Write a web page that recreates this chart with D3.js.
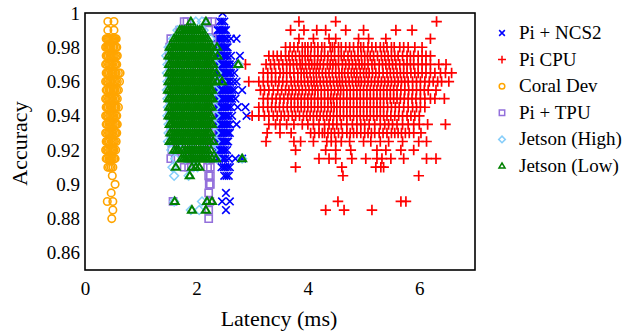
<!DOCTYPE html>
<html>
<head>
<meta charset="utf-8">
<script src="https://cdn.jsdelivr.net/npm/d3@7"></script>
<style>
  html, body { margin: 0; padding: 0; background: #fff; }
  svg text { font-family: "Liberation Serif", "DejaVu Serif", serif; }
</style>
</head>
<body>
<figure id="scatter" style="margin:0"></figure>
<script>
// axis ticks
const xTicks = [0, 2, 4, 6];
const yTicks = [0.86, 0.88, 0.9, 0.92, 0.94, 0.96, 0.98, 1];
const seriesNames = ['Pi + NCS2', 'Pi CPU', 'Coral Dev', 'Pi + TPU', 'Jetson (High)', 'Jetson (Low)'];

// each row: [accuracy, [latencies in ms]]
const piNcs2 = [
  [1.0, [2.47]],
  [0.995, [2.42, 2.46, 2.5]],
  [0.99, [2.38, 2.41, 2.44, 2.47, 2.5, 2.53]],
  [0.985, [2.36, 2.39, 2.42, 2.45, 2.48, 2.52, 2.55, 2.62, 2.72]],
  [0.98, [2.36, 2.39, 2.41, 2.44, 2.46, 2.49, 2.51, 2.54, 2.56]],
  [0.975, [2.35, 2.38, 2.4, 2.43, 2.45, 2.48, 2.5, 2.53, 2.56, 2.62, 2.78]],
  [0.97, [2.35, 2.37, 2.39, 2.42, 2.44, 2.47, 2.49, 2.52, 2.55, 2.58, 2.6, 2.66]],
  [0.965, [2.35, 2.38, 2.4, 2.43, 2.45, 2.48, 2.5, 2.53, 2.56, 2.59, 2.62, 2.68]],
  [0.96, [2.35, 2.37, 2.4, 2.42, 2.45, 2.47, 2.5, 2.52, 2.55, 2.58, 2.6, 2.66, 2.72]],
  [0.955, [2.36, 2.38, 2.41, 2.44, 2.47, 2.5, 2.53, 2.56, 2.6, 2.64, 2.68, 2.82]],
  [0.95, [2.35, 2.38, 2.4, 2.43, 2.46, 2.49, 2.52, 2.55, 2.58, 2.61, 2.64, 2.7]],
  [0.945, [2.36, 2.39, 2.42, 2.45, 2.48, 2.51, 2.55, 2.58, 2.62, 2.74, 2.88]],
  [0.94, [2.35, 2.38, 2.4, 2.43, 2.46, 2.49, 2.52, 2.55, 2.58, 2.64, 2.9]],
  [0.935, [2.35, 2.38, 2.41, 2.44, 2.47, 2.5, 2.53, 2.56, 2.6, 2.72]],
  [0.93, [2.36, 2.39, 2.42, 2.45, 2.48, 2.51, 2.54, 2.57, 2.6]],
  [0.925, [2.35, 2.38, 2.4, 2.43, 2.46, 2.49, 2.52, 2.55, 2.57]],
  [0.92, [2.36, 2.39, 2.42, 2.45, 2.48, 2.51, 2.55]],
  [0.915, [2.38, 2.41, 2.45, 2.48, 2.52, 2.58, 2.7, 2.82]],
  [0.91, [2.45, 2.49, 2.52, 2.56, 2.6]],
  [0.905, [2.5, 2.54, 2.58]],
  [0.895, [2.53]],
  [0.89, [2.46, 2.6]],
  [0.885, [2.53]]
];

const piCpu = [
  [0.995, [3.84, 4.5, 6.31]],
  [0.99, [3.69, 3.93, 4.16, 4.32, 4.68, 5.0, 5.58, 5.87]],
  [0.985, [3.84, 4.1, 4.38, 4.5, 4.91, 5.09, 5.4, 6.2]],
  [0.98, [3.6, 3.68, 3.75, 3.82, 3.9, 3.95, 4.0, 4.06, 4.12, 4.18, 4.25, 4.3, 4.4, 4.44, 4.48, 4.55, 4.6, 4.68, 4.75, 4.82, 4.9, 4.95, 5.0, 5.08, 5.15, 5.22, 5.3, 5.36, 5.42, 5.5, 5.55, 5.65, 5.72, 5.8, 5.92, 6.05]],
  [0.975, [3.3, 3.38, 3.45, 3.52, 3.6, 3.66, 3.72, 3.78, 3.85, 3.9, 3.95, 4.0, 4.05, 4.12, 4.18, 4.24, 4.3, 4.36, 4.42, 4.48, 4.55, 4.6, 4.65, 4.72, 4.78, 4.84, 4.9, 4.96, 5.02, 5.07, 5.12, 5.18, 5.25, 5.32, 5.38, 5.44, 5.5, 5.56, 5.62, 5.7, 5.78, 5.84, 5.9, 5.98, 6.05, 6.12, 6.2]],
  [0.97, [2.88, 3.25, 3.33, 3.4, 3.48, 3.55, 3.62, 3.68, 3.74, 3.8, 3.86, 3.9, 3.96, 4.02, 4.07, 4.12, 4.17, 4.22, 4.28, 4.35, 4.4, 4.45, 4.5, 4.55, 4.62, 4.68, 4.74, 4.8, 4.86, 4.92, 4.97, 5.02, 5.08, 5.15, 5.2, 5.28, 5.34, 5.4, 5.46, 5.52, 5.58, 5.65, 5.72, 5.78, 5.84, 5.9, 5.98, 6.05, 6.12, 6.2, 6.35, 6.48]],
  [0.965, [3.2, 3.28, 3.35, 3.42, 3.5, 3.56, 3.62, 3.68, 3.75, 3.82, 3.88, 3.93, 3.98, 4.04, 4.1, 4.15, 4.2, 4.26, 4.32, 4.38, 4.44, 4.5, 4.56, 4.61, 4.66, 4.72, 4.78, 4.83, 4.88, 4.94, 5.0, 5.05, 5.1, 5.16, 5.22, 5.28, 5.35, 5.42, 5.48, 5.54, 5.6, 5.66, 5.72, 5.78, 5.85, 5.92, 5.98, 6.05, 6.12, 6.2, 6.28, 6.38, 6.47, 6.58]],
  [0.96, [2.94, 3.12, 3.2, 3.28, 3.35, 3.42, 3.48, 3.55, 3.62, 3.7, 3.76, 3.82, 3.88, 3.94, 4.0, 4.06, 4.11, 4.16, 4.22, 4.28, 4.34, 4.4, 4.46, 4.52, 4.57, 4.62, 4.68, 4.74, 4.8, 4.86, 4.91, 4.96, 5.02, 5.08, 5.14, 5.2, 5.26, 5.32, 5.38, 5.44, 5.5, 5.56, 5.62, 5.68, 5.74, 5.8, 5.88, 5.95, 6.02, 6.1, 6.18, 6.25, 6.33, 6.4, 6.53]],
  [0.955, [3.15, 3.22, 3.3, 3.38, 3.46, 3.53, 3.6, 3.66, 3.72, 3.78, 3.84, 3.9, 3.96, 4.02, 4.08, 4.13, 4.18, 4.24, 4.3, 4.36, 4.42, 4.48, 4.54, 4.59, 4.64, 4.7, 4.76, 4.82, 4.88, 4.94, 5.0, 5.06, 5.12, 5.18, 5.24, 5.3, 5.36, 5.42, 5.48, 5.54, 5.6, 5.67, 5.74, 5.81, 5.88, 5.95, 6.02, 6.09, 6.16, 6.3]],
  [0.95, [3.2, 3.28, 3.36, 3.43, 3.5, 3.57, 3.64, 3.7, 3.76, 3.82, 3.88, 3.94, 4.0, 4.06, 4.12, 4.18, 4.24, 4.3, 4.36, 4.41, 4.46, 4.52, 4.58, 4.64, 4.7, 4.76, 4.82, 4.88, 4.94, 5.0, 5.06, 5.12, 5.18, 5.24, 5.3, 5.36, 5.42, 5.48, 5.54, 5.6, 5.66, 5.73, 5.8, 5.87, 5.94, 6.02, 6.1, 6.2, 6.28, 6.45]],
  [0.945, [3.12, 3.2, 3.28, 3.35, 3.42, 3.49, 3.56, 3.63, 3.7, 3.76, 3.82, 3.88, 3.94, 4.0, 4.06, 4.12, 4.18, 4.24, 4.3, 4.36, 4.42, 4.47, 4.52, 4.58, 4.64, 4.7, 4.76, 4.82, 4.88, 4.94, 5.0, 5.06, 5.12, 5.18, 5.24, 5.3, 5.36, 5.43, 5.5, 5.57, 5.64, 5.72, 5.8, 5.88, 5.95, 6.02, 6.1]],
  [0.94, [3.0, 3.12, 3.22, 3.3, 3.38, 3.45, 3.52, 3.58, 3.65, 3.72, 3.78, 3.85, 3.92, 3.98, 4.04, 4.1, 4.16, 4.22, 4.28, 4.34, 4.4, 4.46, 4.52, 4.58, 4.64, 4.7, 4.76, 4.82, 4.88, 4.94, 5.0, 5.06, 5.12, 5.18, 5.24, 5.3, 5.36, 5.42, 5.49, 5.56, 5.63, 5.7, 5.78, 5.85, 5.92, 6.0]],
  [0.935, [3.3, 3.42, 3.5, 3.62, 3.75, 3.9, 4.0, 4.1, 4.2, 4.3, 4.38, 4.45, 4.52, 4.6, 4.7, 4.8, 4.88, 4.95, 5.02, 5.1, 5.2, 5.3, 5.38, 5.45, 5.52, 5.6, 5.7, 5.8, 5.9, 6.0, 6.15, 6.47]],
  [0.93, [3.27, 3.5, 3.7, 4.05, 4.12, 4.2, 4.26, 4.3, 4.36, 4.42, 4.48, 4.55, 4.62, 4.7, 4.76, 4.82, 4.88, 4.95, 5.02, 5.08, 5.14, 5.2, 5.28, 5.35, 5.42, 5.5, 5.56, 5.62, 5.68, 5.75, 5.82, 5.9, 6.03]],
  [0.925, [3.25, 3.75, 3.87, 4.1, 4.34, 4.42, 4.5, 4.6, 4.75, 5.0, 5.13, 5.3, 5.45, 5.7, 5.99, 6.13]],
  [0.92, [3.78, 4.32, 4.5, 4.77, 5.24, 5.4, 5.67, 5.9]],
  [0.915, [4.2, 4.38, 4.5, 4.79, 5.04, 5.24, 5.33, 5.49, 5.72, 6.13, 6.3]],
  [0.91, [3.78, 4.61, 5.22, 5.31, 5.36]],
  [0.905, [4.63, 5.99]],
  [0.89, [4.54, 5.67, 5.76]],
  [0.885, [4.32, 4.65, 5.15]]
];

const coralDev = [
  [0.995, [0.41, 0.52]],
  [0.99, [0.41, 0.52]],
  [0.985, [0.38, 0.4, 0.42, 0.44, 0.46, 0.48, 0.5, 0.52, 0.54, 0.56]],
  [0.98, [0.37, 0.39, 0.41, 0.43, 0.45, 0.47, 0.5, 0.52, 0.55, 0.57]],
  [0.975, [0.38, 0.4, 0.42, 0.45, 0.47, 0.49, 0.51, 0.53, 0.56, 0.58]],
  [0.97, [0.37, 0.39, 0.42, 0.44, 0.46, 0.48, 0.5, 0.53, 0.55, 0.57]],
  [0.965, [0.38, 0.4, 0.42, 0.44, 0.47, 0.49, 0.51, 0.54, 0.56, 0.6, 0.63]],
  [0.96, [0.37, 0.39, 0.41, 0.44, 0.46, 0.48, 0.51, 0.53, 0.55, 0.58, 0.62]],
  [0.955, [0.38, 0.4, 0.43, 0.45, 0.47, 0.5, 0.52, 0.54, 0.57, 0.6]],
  [0.95, [0.37, 0.39, 0.42, 0.44, 0.46, 0.48, 0.5, 0.53, 0.55, 0.58]],
  [0.945, [0.38, 0.4, 0.42, 0.45, 0.47, 0.49, 0.52, 0.54, 0.56, 0.6]],
  [0.94, [0.37, 0.39, 0.41, 0.44, 0.46, 0.48, 0.5, 0.52, 0.55, 0.57]],
  [0.935, [0.38, 0.4, 0.43, 0.45, 0.47, 0.49, 0.51, 0.54, 0.56, 0.58]],
  [0.93, [0.37, 0.39, 0.42, 0.44, 0.46, 0.48, 0.5, 0.53, 0.55, 0.57]],
  [0.925, [0.38, 0.4, 0.42, 0.44, 0.47, 0.49, 0.51, 0.53, 0.56]],
  [0.92, [0.37, 0.39, 0.41, 0.44, 0.46, 0.48, 0.5, 0.52, 0.55]],
  [0.915, [0.38, 0.4, 0.43, 0.45, 0.47, 0.49, 0.52, 0.54]],
  [0.91, [0.41, 0.44, 0.47, 0.5]],
  [0.905, [0.49]],
  [0.9, [0.54]],
  [0.895, [0.47]],
  [0.89, [0.4, 0.5]],
  [0.885, [0.5]],
  [0.88, [0.48]]
];

const piTpu = [
  [0.995, [1.78, 1.83, 2.2, 2.28]],
  [0.99, [1.7, 2.22]],
  [0.985, [1.54, 1.9, 2.28]],
  [0.98, [1.52, 1.7, 1.9, 2.1, 2.27]],
  [0.975, [1.51, 1.72, 1.92, 2.12, 2.26]],
  [0.97, [1.52, 1.7, 1.9, 2.1, 2.27]],
  [0.965, [1.53, 1.72, 1.92, 2.12, 2.25]],
  [0.96, [1.52, 1.7, 1.9, 2.1, 2.26]],
  [0.955, [1.51, 1.72, 1.92, 2.12, 2.25]],
  [0.95, [1.52, 1.7, 1.9, 2.1, 2.26]],
  [0.945, [1.53, 1.72, 1.92, 2.12, 2.25]],
  [0.94, [1.52, 1.7, 1.9, 2.1, 2.26]],
  [0.935, [1.54, 1.72, 1.92, 2.12, 2.25]],
  [0.93, [1.54, 1.7, 1.9, 2.1, 2.26]],
  [0.925, [1.55, 1.72, 1.92, 2.12, 2.25]],
  [0.92, [1.56, 1.7, 1.9, 2.1, 2.24]],
  [0.915, [1.54, 1.62, 1.9, 2.24]],
  [0.91, [1.78, 1.86, 2.2, 2.25]],
  [0.905, [2.22, 2.25]],
  [0.9, [2.23, 2.25]],
  [0.895, [2.22]],
  [0.89, [1.58, 2.24]],
  [0.885, [2.22]],
  [0.88, [2.22]]
];

const jetsonHigh = [
  [0.995, [1.99, 2.1]],
  [0.99, [1.66, 1.9, 2.13]],
  [0.985, [1.58, 1.8, 2.0, 2.25]],
  [0.98, [1.5, 1.7, 1.9, 2.1, 2.32]],
  [0.975, [1.46, 1.7, 1.9, 2.1, 2.36]],
  [0.97, [1.48, 1.7, 1.9, 2.1, 2.34, 2.76]],
  [0.965, [1.47, 1.7, 1.9, 2.1, 2.37]],
  [0.96, [1.48, 1.7, 1.9, 2.1, 2.35, 2.45]],
  [0.955, [1.47, 1.7, 1.9, 2.1, 2.33]],
  [0.95, [1.48, 1.7, 1.9, 2.1, 2.34]],
  [0.945, [1.49, 1.7, 1.9, 2.1, 2.33]],
  [0.94, [1.48, 1.7, 1.9, 2.1, 2.34]],
  [0.935, [1.5, 1.7, 1.9, 2.1, 2.32]],
  [0.93, [1.5, 1.7, 1.9, 2.1, 2.33]],
  [0.925, [1.49, 1.7, 1.9, 2.1, 2.34]],
  [0.92, [1.55, 1.75, 1.95, 2.15, 2.3]],
  [0.915, [1.62, 1.8, 2.0, 2.2, 2.36, 2.82]],
  [0.91, [1.57, 1.95, 2.02]],
  [0.905, [1.6, 1.86]],
  [0.89, [1.6, 2.1]],
  [0.885, [1.9, 2.05]]
];

const jetsonLow = [
  [0.995, [1.9, 2.17]],
  [0.99, [1.7, 1.74, 1.78, 1.82, 1.86, 1.9, 1.94, 1.98, 2.02, 2.06, 2.1]],
  [0.985, [1.6, 1.64, 1.68, 1.72, 1.76, 1.8, 1.84, 1.88, 1.92, 1.96, 2.0, 2.04, 2.08, 2.12, 2.16, 2.2]],
  [0.98, [1.52, 1.56, 1.6, 1.64, 1.68, 1.72, 1.76, 1.8, 1.84, 1.88, 1.92, 1.96, 2.0, 2.04, 2.08, 2.12, 2.16, 2.2, 2.24, 2.28, 2.37]],
  [0.975, [1.5, 1.54, 1.58, 1.62, 1.66, 1.7, 1.74, 1.78, 1.82, 1.86, 1.9, 1.94, 1.98, 2.02, 2.06, 2.1, 2.14, 2.18, 2.22, 2.26, 2.3, 2.38]],
  [0.97, [1.51, 1.55, 1.59, 1.63, 1.67, 1.71, 1.75, 1.79, 1.83, 1.87, 1.91, 1.95, 1.99, 2.03, 2.07, 2.11, 2.15, 2.19, 2.23, 2.27, 2.3, 2.75]],
  [0.965, [1.5, 1.54, 1.58, 1.62, 1.66, 1.7, 1.74, 1.78, 1.82, 1.86, 1.9, 1.94, 1.98, 2.02, 2.06, 2.1, 2.14, 2.18, 2.22, 2.26, 2.3, 2.36]],
  [0.96, [1.5, 1.54, 1.58, 1.62, 1.66, 1.7, 1.74, 1.78, 1.82, 1.86, 1.9, 1.94, 1.98, 2.02, 2.06, 2.1, 2.14, 2.18, 2.22, 2.26, 2.3, 2.37, 2.46]],
  [0.955, [1.49, 1.53, 1.57, 1.61, 1.65, 1.69, 1.73, 1.77, 1.81, 1.85, 1.89, 1.93, 1.97, 2.01, 2.05, 2.09, 2.13, 2.17, 2.21, 2.25, 2.28]],
  [0.95, [1.5, 1.54, 1.58, 1.62, 1.66, 1.7, 1.74, 1.78, 1.82, 1.86, 1.9, 1.94, 1.98, 2.02, 2.06, 2.1, 2.14, 2.18, 2.22, 2.26, 2.29]],
  [0.945, [1.51, 1.55, 1.59, 1.63, 1.67, 1.71, 1.75, 1.79, 1.83, 1.87, 1.91, 1.95, 1.99, 2.03, 2.07, 2.11, 2.15, 2.19, 2.23, 2.27]],
  [0.94, [1.5, 1.54, 1.58, 1.62, 1.66, 1.7, 1.74, 1.78, 1.82, 1.86, 1.9, 1.94, 1.98, 2.02, 2.06, 2.1, 2.14, 2.18, 2.22, 2.26]],
  [0.935, [1.52, 1.56, 1.6, 1.64, 1.68, 1.72, 1.76, 1.8, 1.84, 1.88, 1.92, 1.96, 2.0, 2.04, 2.08, 2.12, 2.16, 2.2, 2.24, 2.28]],
  [0.93, [1.53, 1.57, 1.61, 1.65, 1.69, 1.73, 1.77, 1.81, 1.85, 1.89, 1.93, 1.97, 2.01, 2.05, 2.09, 2.13, 2.17, 2.21, 2.25]],
  [0.925, [1.52, 1.56, 1.6, 1.64, 1.68, 1.72, 1.76, 1.8, 1.84, 1.88, 1.92, 1.96, 2.0, 2.04, 2.08, 2.12, 2.16, 2.2, 2.24, 2.3]],
  [0.92, [1.6, 1.64, 1.68, 1.75, 1.8, 1.84, 1.88, 1.92, 1.96, 2.0, 2.04, 2.08, 2.12, 2.16, 2.2, 2.26]],
  [0.915, [1.73, 1.77, 1.81, 1.86, 1.9, 1.94, 1.98, 2.02, 2.06, 2.1, 2.14, 2.18, 2.22, 2.28, 2.35, 2.82]],
  [0.91, [1.63, 1.92, 1.99, 2.05]],
  [0.905, [1.88]],
  [0.89, [1.61, 2.19, 2.28]],
  [0.885, [1.92, 2.17]]
];

const width = 626;
const height = 333;
const plot = {left: 85, right: 475, top: 13, bottom: 270};
const serif = '"Liberation Serif", "DejaVu Serif", serif';

const svg = d3.select('figure#scatter')
  .append('svg')
  .attr('width', width)
  .attr('height', height);

const x = d3.scaleLinear().domain([0, 7]).range([plot.left, plot.right]);
const y = d3.scaleLinear().domain([0.85, 1]).range([plot.bottom, plot.top]);

// marker shapes
const shapes = {
  cross: 'M-3.8,-3.8L3.8,3.8M-3.8,3.8L3.8,-3.8',
  plus: 'M-5.3,0H5.3M0,-5.3V5.3',
  circle: d3.symbol(d3.symbolCircle, 44)(),
  square: 'M-3.6,-3.6H3.6V3.6H-3.6Z',
  diamond: 'M0,-4.4L4.4,0L0,4.4L-4.4,0Z',
  triangle: 'M0,-4L4,2.6L-4,2.6Z'
};

const series = [
  {rows: piNcs2, shape: 'cross', color: '#0000ff', sw: 1.6},
  {rows: piCpu, shape: 'plus', color: '#ff0000', sw: 1.7},
  {rows: coralDev, shape: 'circle', color: '#ffa500', sw: 1.6},
  {rows: piTpu, shape: 'square', color: '#9370db', sw: 1.6},
  {rows: jetsonHigh, shape: 'diamond', color: '#87cefa', sw: 1.5},
  {rows: jetsonLow, shape: 'triangle', color: '#008000', sw: 2}
];

svg.append('clipPath').attr('id', 'plotclip')
  .append('rect')
  .attr('x', plot.left).attr('y', plot.top)
  .attr('width', plot.right - plot.left).attr('height', plot.bottom - plot.top);

const marks = svg.append('g').attr('clip-path', 'url(#plotclip)');
series.forEach(s => {
  const pts = s.rows.flatMap(([acc, lats]) => lats.map(l => [l, acc]));
  marks.append('g')
    .selectAll('path')
    .data(pts)
    .enter()
    .append('path')
    .attr('d', shapes[s.shape])
    .attr('transform', d => 'translate(' + x(d[0]) + ',' + y(d[1]) + ')')
    .attr('fill', 'none')
    .attr('stroke', s.color)
    .attr('stroke-width', s.sw);
});

// frame
svg.append('rect')
  .attr('x', plot.left).attr('y', plot.top)
  .attr('width', plot.right - plot.left).attr('height', plot.bottom - plot.top)
  .attr('fill', 'none')
  .attr('stroke', '#000')
  .attr('stroke-width', 1.6);

// axes (no tick marks, labels only)
const xAxis = svg.append('g')
  .attr('transform', 'translate(0,' + plot.bottom + ')')
  .call(d3.axisBottom(x).tickValues(xTicks).tickSize(0).tickPadding(12).tickFormat(d3.format('~g')));
const yAxis = svg.append('g')
  .attr('transform', 'translate(' + plot.left + ',0)')
  .call(d3.axisLeft(y).tickValues(yTicks).tickSize(0).tickPadding(5).tickFormat(d3.format('~g')));
[xAxis, yAxis].forEach(a => {
  a.attr('font-family', serif);
  a.select('.domain').remove();
  a.selectAll('text')
    .attr('font-family', serif)
    .attr('font-size', 19)
    .attr('fill', '#000');
});

svg.append('text')
  .attr('x', (plot.left + plot.right) / 2 - 1)
  .attr('y', 326)
  .attr('text-anchor', 'middle')
  .attr('font-family', serif)
  .attr('font-size', 22)
  .text('Latency (ms)');

svg.append('text')
  .attr('transform', 'translate(27,' + ((plot.top + plot.bottom) / 2 + 2) + ') rotate(-90)')
  .attr('text-anchor', 'middle')
  .attr('font-family', serif)
  .attr('font-size', 22)
  .text('Accuracy');

// legend
const legend = svg.append('g').attr('transform', 'translate(502,33)');
const items = legend.selectAll('g')
  .data(seriesNames)
  .enter()
  .append('g')
  .attr('transform', (d, i) => 'translate(0,' + (i * 26.6) + ')');
items.append('path')
  .attr('d', (d, i) => shapes[series[i].shape])
  .attr('transform', 'scale(0.75)')
  .attr('fill', 'none')
  .attr('stroke', (d, i) => series[i].color)
  .attr('stroke-width', 2);
items.append('text')
  .attr('x', 17)
  .attr('y', 6)
  .attr('font-family', serif)
  .attr('font-size', 19)
  .text(d => d);
</script>
</body>
</html>
